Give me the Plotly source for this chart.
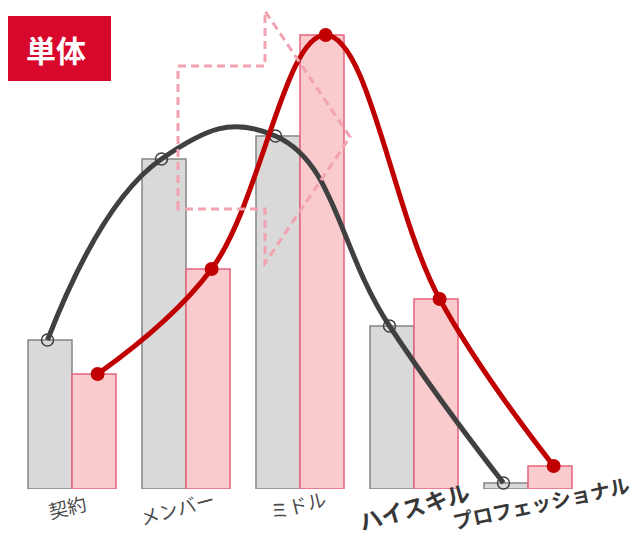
import plotly.graph_objects as go

categories = ["契約", "メンバー", "ミドル", "ハイスキル", "プロフェッショナル"]
gray_values = [14.9, 33.0, 35.3, 16.3, 0.6]
pink_values = [11.5, 22.0, 45.4, 19.0, 2.3]

# page body has an 8px margin; work in screen pixels and convert
OFF = 8
W, H = 641 - OFF, 539 - OFF
ML, MT, PW, PH = 15 - OFF, 9 - OFF, 570, 480
MR = W - ML - PW
MB = H - MT - PH


def px(s):
    return (s - OFF - ML) / PW


def py(s):
    return (H - MB - (s - OFF)) / PH


idx = list(range(len(categories)))
bw = 0.386

fig = go.Figure()
fig.add_bar(x=idx, y=gray_values, width=bw, offset=-bw,
            marker=dict(color="#d9d9d9", line=dict(color="#858585", width=1.5)),
            showlegend=False, hoverinfo="skip")
fig.add_bar(x=idx, y=pink_values, width=bw, offset=0,
            marker=dict(color="#f9cbcd", line=dict(color="#e6637d", width=1.5)),
            showlegend=False, hoverinfo="skip")

fig.add_scatter(x=[i - 0.215 for i in idx], y=gray_values, mode="lines+markers",
                line=dict(color="#404040", width=5, shape="spline", smoothing=1.3),
                marker=dict(symbol="circle-open", size=12, color="#404040", line=dict(width=1.5)),
                cliponaxis=False, showlegend=False, hoverinfo="skip")
fig.add_scatter(x=[i + 0.225 for i in idx], y=pink_values, mode="lines+markers",
                line=dict(color="#c00000", width=5, shape="spline", smoothing=1.1),
                marker=dict(symbol="circle", size=14, color="#c00000"),
                cliponaxis=False, showlegend=False, hoverinfo="skip")

# dashed arrow decoration
pts = [(178, 209), (178, 66), (265, 66), (265, 11), (350, 137), (265, 263), (265, 209)]
path = "M " + " L ".join(f"{px(a):.4f},{py(b):.4f}" for a, b in pts) + " Z"
fig.add_shape(type="path", path=path, xref="paper", yref="paper", layer="above",
              line=dict(color="#f2a2b0", width=3, dash="8px,5px"))

# label box
fig.add_shape(type="rect", xref="paper", yref="paper", x0=px(0), x1=px(111), y0=py(81), y1=py(16),
              fillcolor="#d7082c", line=dict(width=0), layer="above")
fig.add_annotation(x=px(56), y=py(49), xref="paper", yref="paper", text="<b>単体</b>",
                   xanchor="center", yanchor="middle", showarrow=False,
                   font=dict(size=30, color="white", family="Noto Sans CJK JP"))

label_style = [
    dict(size=19, color="#4a4a4a", bold=False, xs=-5, ys=-17, ang=-14),
    dict(size=19, color="#4a4a4a", bold=False, xs=-9, ys=-18, ang=-15),
    dict(size=19, color="#4a4a4a", bold=False, xs=-3, ys=-15, ang=-14),
    dict(size=23, color="#383838", bold=True, xs=0, ys=-17, ang=-16),
    dict(size=20, color="#383838", bold=True, xs=13, ys=-13, ang=-12),
]
for i, (cat, st) in enumerate(zip(categories, label_style)):
    txt = f"<b>{cat}</b>" if st["bold"] else cat
    fig.add_annotation(x=i, y=0, xref="x", yref="y", text=txt, showarrow=False,
                       xanchor="center", yanchor="middle",
                       xshift=st["xs"], yshift=st["ys"], textangle=st["ang"],
                       font=dict(size=st["size"], color=st["color"], family="Noto Sans CJK JP"))

fig.update_layout(
    width=W, height=H, margin=dict(l=ML, r=MR, t=MT, b=MB),
    plot_bgcolor="white", paper_bgcolor="white",
    xaxis=dict(range=[-0.5, 4.5], visible=False, fixedrange=True),
    yaxis=dict(range=[0, 48], visible=False, fixedrange=True),
    showlegend=False,
)

fig.write_html("out.html")
